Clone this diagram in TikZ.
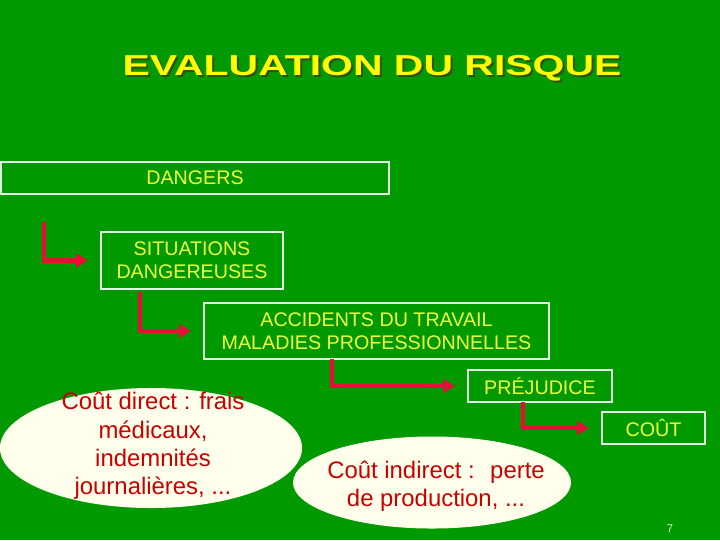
\documentclass[tikz,border=0pt]{standalone}
\usepackage{fontspec}
\setmainfont{Liberation Sans}
\usepackage{graphicx}
\usepackage{xcolor}
\usepackage{tikz}
\usetikzlibrary{shapes.geometric, arrows.meta}
\definecolor{slidegreen}{RGB}{0,153,0}
\definecolor{titleyellow}{RGB}{255,255,0}
\definecolor{titleshade}{RGB}{50,80,0}
\definecolor{boxyellow}{RGB}{240,255,60}
\definecolor{boxline}{RGB}{225,255,225}
\definecolor{arrowred}{RGB}{230,15,55}
\definecolor{bubblefill}{RGB}{255,255,235}
\definecolor{bubblered}{RGB}{200,0,0}
\tikzset{
    stage/.style={
        rectangle,
        draw=boxline,
        line width=1.4pt,
        inner sep=0pt,
        text=boxyellow,
        align=center,
        font=\fontsize{14}{16.3}\selectfont
    },
    flow/.style={
        draw=arrowred,
        line width=3.5pt,
        -{Triangle[length=8.5pt,width=9.5pt]},
        shorten >=0.3cm
    },
    bubble/.style={
        ellipse,
        fill=bubblefill,
        inner sep=0pt
    },
    bubbletext/.style={
        text=bubblered,
        align=center,
        font=\fontsize{17}{20.2}\selectfont
    },
    titletext/.style={
        anchor=base,
        font=\fontsize{20.5}{24}\selectfont\bfseries
    }
}
\newcommand{\slidetitle}{\scalebox{1.42}[1]{EVALUATION DU RISQUE}}

\begin{document}
\begin{tikzpicture}[x=0.025cm, y=-0.025cm]

% Background
\fill[slidegreen] (0,0) rectangle (720,540);
\useasboundingbox (0,0) rectangle (720,540);

% Title
\node[titletext, text=titleshade] (titleshadow) at (374,77) {\slidetitle};
\node[titletext, text=titleyellow] (title) at (372,75) {\slidetitle};

% Chain of boxes
\node[stage, minimum width=9.7cm, minimum height=0.8cm] (dangers) at (195,178) {DANGERS};
\node[stage, minimum width=4.55cm, minimum height=1.425cm] (situations) at (192,260.5) {SITUATIONS\\DANGEREUSES};
\node[stage, minimum width=8.625cm, minimum height=1.4cm] (accidents) at (376.5,331) {ACCIDENTS DU TRAVAIL\\MALADIES PROFESSIONNELLES};
\node[stage, minimum width=3.6cm, minimum height=0.8cm] (prejudice) at (540,386) {PRÉJUDICE};
\node[stage, minimum width=2.575cm, minimum height=0.8cm] (cout) at (653.5,428) {COÛT};

% Arrow starts
\coordinate (a1) at (44,222);
\coordinate (a2) at (140,292);
\coordinate (a3) at (332,359);
\coordinate (a4) at (523,402);

% Arrows
\draw[flow] (a1) |- (situations.west);
\draw[flow] (a2) |- (accidents.west);
\draw[flow] (a3) |- (prejudice.west);
\draw[flow] (a4) |- (cout.west);

% Costs
\node[bubble, minimum width=7.55cm, minimum height=3cm] (direct) at (151,448) {};
\node[bubbletext] (directtext) at (153,446) {Coût direct : frais\\médicaux,\\indemnités\\journalières, ...};

\node[bubble, minimum width=6.95cm, minimum height=2.3cm] (indirect) at (432,482.5) {};
\node[bubbletext] (indirecttext) at (436,486) {Coût indirect :~ perte\\de production, ...};

% Page number
\node[font=\fontsize{8}{9}\selectfont, text=white!85!green] (pagenum) at (670,529) {7};

\end{tikzpicture}
\end{document}
